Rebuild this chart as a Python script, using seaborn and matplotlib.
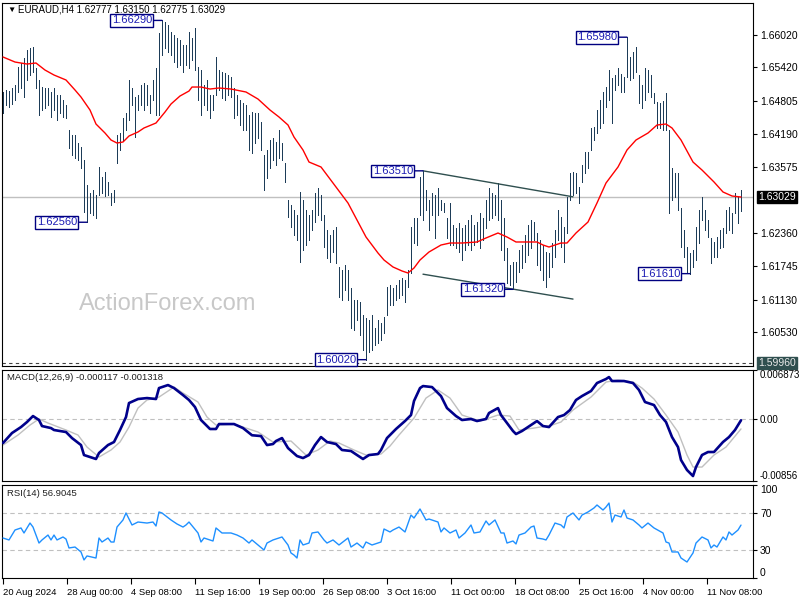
import numpy as np
import pandas as pd
import matplotlib
matplotlib.use("Agg")
import matplotlib.pyplot as plt
import matplotlib.transforms as mtransforms
import seaborn as sns

# ---------------- data ----------------
symbol_info = "EURAUD,H4 1.62777 1.63150 1.62775 1.63029"
last_close = 1.63029
support_level = 1.59960

high = [
    1.6497, 1.6500, 1.6498, 1.6504, 1.6510, 1.6543, 1.6550, 1.6559, 1.6574, 1.6578,
    1.6580, 1.6541, 1.6519, 1.6506, 1.6504, 1.6504, 1.6497, 1.6504, 1.6491, 1.6491,
    1.6482, 1.6473, 1.6426, 1.6417, 1.6417, 1.6402, 1.6395, 1.6371, 1.6325, 1.6310,
    1.6316, 1.6306, 1.6358, 1.6340, 1.6349, 1.6330, 1.6310, 1.6316, 1.6417, 1.6421,
    1.6449, 1.6458, 1.6519, 1.6504, 1.6487, 1.6491, 1.6510, 1.6513, 1.6510, 1.6491,
    1.6519, 1.6541, 1.6606, 1.6629, 1.6626, 1.6620, 1.6608, 1.6602, 1.6596, 1.6593,
    1.6584, 1.6584, 1.6608, 1.6596, 1.6615, 1.6543, 1.6537, 1.6510, 1.6519, 1.6491,
    1.6491, 1.6561, 1.6537, 1.6534, 1.6532, 1.6528, 1.6524, 1.6504, 1.6491, 1.6482,
    1.6476, 1.6473, 1.6454, 1.6460, 1.6458, 1.6458, 1.6441, 1.6380, 1.6389, 1.6408,
    1.6412, 1.6404, 1.6426, 1.6402, 1.6365, 1.6297, 1.6288, 1.6279, 1.6269, 1.6312,
    1.6297, 1.6279, 1.6269, 1.6279, 1.6310, 1.6319, 1.6306, 1.6269, 1.6242, 1.6232,
    1.6242, 1.6247, 1.6173, 1.6168, 1.6177, 1.6168, 1.6135, 1.6112, 1.6112, 1.6109,
    1.6085, 1.6079, 1.6075, 1.6085, 1.6061, 1.6075, 1.6070, 1.6081, 1.6136, 1.6140,
    1.6135, 1.6140, 1.6149, 1.6153, 1.6149, 1.6168, 1.6247, 1.6264, 1.6264, 1.6340,
    1.6351, 1.6316, 1.6297, 1.6310, 1.6306, 1.6319, 1.6297, 1.6291, 1.6264, 1.6291,
    1.6251, 1.6245, 1.6255, 1.6245, 1.6251, 1.6260, 1.6269, 1.6251, 1.6256, 1.6273,
    1.6264, 1.6297, 1.6319, 1.6310, 1.6306, 1.6329, 1.6297, 1.6264, 1.6208, 1.6177,
    1.6182, 1.6182, 1.6205, 1.6214, 1.6232, 1.6251, 1.6260, 1.6256, 1.6236, 1.6223,
    1.6214, 1.6201, 1.6199, 1.6218, 1.6242, 1.6279, 1.6266, 1.6247, 1.6303, 1.6347,
    1.6349, 1.6347, 1.6321, 1.6362, 1.6386, 1.6386, 1.6430, 1.6432, 1.6463, 1.6482,
    1.6497, 1.6506, 1.6537, 1.6523, 1.6528, 1.6541, 1.6530, 1.6524, 1.6598, 1.6561,
    1.6571, 1.6580, 1.6528, 1.6510, 1.6541, 1.6537, 1.6528, 1.6495, 1.6478, 1.6476,
    1.6480, 1.6495, 1.6426, 1.6356, 1.6347, 1.6347, 1.6282, 1.6242, 1.6210, 1.6199,
    1.6205, 1.6247, 1.6279, 1.6303, 1.6279, 1.6260, 1.6227, 1.6219, 1.6229, 1.6242,
    1.6245, 1.6279, 1.6284, 1.6273, 1.6310, 1.6303, 1.6315]

low = [
    1.6458, 1.6473, 1.6469, 1.6474, 1.6482, 1.6497, 1.6504, 1.6487, 1.6519, 1.6528,
    1.6534, 1.6504, 1.6454, 1.6463, 1.6467, 1.6473, 1.6450, 1.6463, 1.6445, 1.6458,
    1.6450, 1.6449, 1.6393, 1.6380, 1.6375, 1.6371, 1.6356, 1.6275, 1.6256, 1.6273,
    1.6269, 1.6264, 1.6306, 1.6310, 1.6304, 1.6306, 1.6288, 1.6293, 1.6365, 1.6389,
    1.6408, 1.6426, 1.6445, 1.6473, 1.6413, 1.6463, 1.6473, 1.6463, 1.6473, 1.6458,
    1.6482, 1.6454, 1.6454, 1.6565, 1.6578, 1.6571, 1.6565, 1.6552, 1.6543, 1.6547,
    1.6534, 1.6547, 1.6541, 1.6556, 1.6537, 1.6482, 1.6454, 1.6473, 1.6463, 1.6449,
    1.6463, 1.6491, 1.6500, 1.6486, 1.6482, 1.6491, 1.6487, 1.6449, 1.6454, 1.6436,
    1.6426, 1.6426, 1.6389, 1.6384, 1.6402, 1.6412, 1.6389, 1.6316, 1.6338, 1.6356,
    1.6371, 1.6362, 1.6375, 1.6371, 1.6330, 1.6266, 1.6247, 1.6232, 1.6223, 1.6182,
    1.6205, 1.6214, 1.6223, 1.6242, 1.6256, 1.6269, 1.6260, 1.6210, 1.6190, 1.6182,
    1.6201, 1.6181, 1.6118, 1.6112, 1.6131, 1.6112, 1.6061, 1.6057, 1.6075, 1.6048,
    1.6020, 1.6002, 1.6016, 1.6020, 1.6029, 1.6033, 1.6038, 1.6051, 1.6085, 1.6103,
    1.6103, 1.6112, 1.6116, 1.6122, 1.6109, 1.6136, 1.6162, 1.6218, 1.6214, 1.6269,
    1.6260, 1.6279, 1.6242, 1.6269, 1.6227, 1.6269, 1.6279, 1.6275, 1.6227, 1.6214,
    1.6214, 1.6208, 1.6201, 1.6186, 1.6205, 1.6214, 1.6205, 1.6214, 1.6219, 1.6208,
    1.6223, 1.6245, 1.6260, 1.6264, 1.6269, 1.6260, 1.6205, 1.6186, 1.6144, 1.6140,
    1.6132, 1.6146, 1.6164, 1.6171, 1.6182, 1.6195, 1.6208, 1.6223, 1.6177, 1.6168,
    1.6149, 1.6136, 1.6155, 1.6173, 1.6192, 1.6223, 1.6210, 1.6182, 1.6236, 1.6297,
    1.6306, 1.6310, 1.6291, 1.6330, 1.6347, 1.6356, 1.6389, 1.6408, 1.6421, 1.6430,
    1.6439, 1.6469, 1.6482, 1.6439, 1.6500, 1.6510, 1.6497, 1.6497, 1.6524, 1.6519,
    1.6523, 1.6534, 1.6476, 1.6467, 1.6482, 1.6497, 1.6487, 1.6476, 1.6430, 1.6430,
    1.6426, 1.6426, 1.6273, 1.6297, 1.6303, 1.6279, 1.6210, 1.6192, 1.6162, 1.6161,
    1.6173, 1.6186, 1.6218, 1.6260, 1.6242, 1.6229, 1.6181, 1.6192, 1.6192, 1.6208,
    1.6210, 1.6236, 1.6242, 1.6236, 1.6273, 1.6255, 1.62775]

ma_idx = [0, 4, 8, 11, 14, 17, 21, 24, 26, 29, 31, 34, 36, 38, 40, 42, 45, 47, 51, 54,
          56, 59, 62, 63, 66, 69, 72, 76, 81, 85, 89, 92, 95, 97, 100, 102, 106, 108, 111, 115,
          118, 121, 125, 127, 130, 133, 135, 137, 139, 142, 146, 149, 153, 158, 161, 165, 168, 171, 176, 178,
          180, 182, 186, 188, 191, 195, 198, 201, 205, 208, 211, 215, 218, 221, 223, 226, 230, 233, 237, 240,
          243, 246]
ma_val = [1.65614, 1.65521, 1.65484, 1.65503, 1.65373, 1.65281, 1.65189, 1.65004, 1.64874, 1.64634,
          1.64375, 1.64209, 1.64080, 1.64024, 1.64043, 1.64154, 1.64228, 1.64302, 1.64394, 1.64597,
          1.64745, 1.64893, 1.64985, 1.65059, 1.65059, 1.65022, 1.65041, 1.65022, 1.64967, 1.64837,
          1.64634, 1.64505, 1.64357, 1.64135, 1.63895, 1.63673, 1.63581, 1.63433, 1.63211, 1.62915,
          1.62601, 1.62287, 1.61991, 1.61862, 1.61733, 1.61659, 1.61622, 1.61714, 1.61862, 1.62010,
          1.62139, 1.62176, 1.62176, 1.62195, 1.62269, 1.62361, 1.62287, 1.62195, 1.62195, 1.62195,
          1.62139, 1.62102, 1.62176, 1.62176, 1.62361, 1.62564, 1.62916, 1.63285, 1.63581, 1.63895,
          1.64080, 1.64209, 1.64357, 1.64375, 1.64302, 1.64080, 1.63673, 1.63525, 1.63304, 1.63119,
          1.63045, 1.63026]

trend_upper_idx = [140, 190]
trend_upper_val = [1.6351, 1.6303]
trend_lower_idx = [140, 190]
trend_lower_val = [1.6160, 1.6114]

mark_idx = [53, 28, 121, 140, 170, 208, 229]
mark_val = [1.66290, 1.62560, 1.60020, 1.63510, 1.61320, 1.65980, 1.61610]

macd_idx = [0, 3, 6, 8, 10, 12, 13, 16, 17, 21, 23, 26, 27, 31, 32, 35, 37, 39, 41, 42,
            45, 48, 51, 52, 55, 57, 60, 62, 64, 66, 69, 71, 72, 77, 80, 83, 86, 88, 90, 91,
            93, 95, 98, 100, 102, 104, 106, 108, 111, 113, 116, 118, 120, 122, 125, 126, 128, 131, 134, 136,
            137, 139, 140, 143, 146, 148, 151, 153, 156, 158, 161, 162, 165, 166, 168, 170, 171, 173, 176, 178,
            180, 182, 185, 187, 189, 191, 193, 196, 198, 201, 202, 203, 207, 210, 212, 214, 217, 219, 221, 223,
            225, 226, 228, 230, 231, 233, 235, 237, 240, 242, 244, 246]
macd_val = [-0.00328, -0.00189, -0.00106, -0.00036, 0.00047, -0.00008, -0.00092, -0.00120, -0.00147, -0.00175,
            -0.00259, -0.00356, -0.00495, -0.00550, -0.00467, -0.00356, -0.00314, -0.00147, 0.00033, 0.00228,
            0.00284, 0.00297, 0.00284, 0.00436, 0.00478, 0.00436, 0.00339, 0.00270, 0.00172, -0.00008,
            -0.00133, -0.00133, -0.00064, -0.00064, -0.00120, -0.00220, -0.00231, -0.00356, -0.00342, -0.00300,
            -0.00259, -0.00398, -0.00509, -0.00537, -0.00495, -0.00356, -0.00245, -0.00314, -0.00342, -0.00425,
            -0.00439, -0.00495, -0.00550, -0.00495, -0.00481, -0.00425, -0.00259, -0.00133, -0.00022, 0.00061,
            0.00256, 0.00436, 0.00464, 0.00450, 0.00325, 0.00158, 0.00047, -0.00008, 0.00006, -0.00022,
            0.00006, 0.00089, 0.00158, 0.00061, -0.00050, -0.00161, -0.00203, -0.00161, -0.00078, -0.00022,
            -0.00092, -0.00106, 0.00033, 0.00061, 0.00131, 0.00270, 0.00325, 0.00395, 0.00506, 0.00562,
            0.00589, 0.00534, 0.00534, 0.00506, 0.00409, 0.00242, 0.00200, 0.00061, -0.00036, -0.00245,
            -0.00384, -0.00564, -0.00703, -0.00787, -0.00662, -0.00495, -0.00453, -0.00453, -0.00314, -0.00245,
            -0.00147, -0.00012]

signal_idx = [0, 5, 9, 12, 15, 21, 25, 28, 32, 36, 39, 42, 45, 48, 52, 57, 60, 65, 68, 71,
              77, 81, 85, 90, 96, 101, 105, 109, 112, 117, 121, 126, 129, 132, 137, 141, 145, 149, 153, 159,
              165, 169, 172, 177, 183, 186, 190, 196, 201, 205, 210, 213, 217, 221, 225, 228, 230, 233, 237, 241,
              246]
signal_val = [-0.00356, -0.00217, -0.00078, 0.00006, -0.00050, -0.00147, -0.00217, -0.00384, -0.00523, -0.00425,
              -0.00314, -0.00106, 0.00158, 0.00270, 0.00311, 0.00450, 0.00367, 0.00242, 0.00033, -0.00078,
              -0.00064, -0.00120, -0.00175, -0.00314, -0.00300, -0.00495, -0.00425, -0.00300, -0.00328, -0.00425,
              -0.00495, -0.00481, -0.00370, -0.00217, 0.00019, 0.00297, 0.00409, 0.00297, 0.00061, -0.00022,
              0.00061, 0.00047, -0.00147, -0.00120, -0.00078, -0.00036, 0.00131, 0.00311, 0.00520, 0.00547,
              0.00520, 0.00436, 0.00284, 0.00061, -0.00175, -0.00495, -0.00662, -0.00662, -0.00495, -0.00384,
              -0.00132]

rsi_idx = [0, 2, 4, 6, 7, 9, 10, 12, 13, 15,
           16, 17, 18, 20, 21, 22, 24, 26, 27, 28,
           31, 32, 33, 35, 36, 37, 38, 40, 41, 43,
           45, 48, 50, 51, 52, 53, 56, 58, 60, 61,
           62, 65, 66, 67, 70, 71, 73, 76, 78, 80,
           82, 83, 85, 87, 88, 90, 93, 95, 96, 97,
           98, 99, 100, 102, 103, 105, 107, 108, 110, 112,
           115, 116, 118, 120, 121, 123, 126, 127, 129, 130,
           132, 134, 136, 137, 139, 141, 142, 145, 146, 147,
           149, 151, 152, 154, 156, 157, 159, 161, 162, 164,
           166, 167, 168, 170, 171, 172, 174, 176, 177, 178,
           180, 181, 182, 184, 186, 187, 188, 190, 192, 193,
           195, 197, 198, 200, 201, 202, 203, 204, 206, 207,
           208, 210, 212, 213, 215, 217, 220, 221, 222, 223,
           225, 226, 228, 230, 231, 233, 235, 236, 237, 238,
           240, 241, 242, 243, 245, 246]
rsi_val = [43.0, 40.9, 51.6, 53.8, 48.4, 59.1, 54.8, 37.6, 40.9, 46.2,
           40.9, 46.2, 40.9, 44.1, 41.9, 32.3, 33.3, 28.0, 19.4, 23.7,
           21.5, 43.0, 38.7, 43.0, 38.7, 38.7, 54.8, 62.4, 69.9, 57.0,
           60.2, 59.1, 60.2, 55.9, 71.0, 69.9, 62.4, 58.1, 54.8, 57.0,
           60.2, 48.4, 38.7, 43.0, 39.8, 53.8, 48.4, 48.4, 46.2, 43.0,
           37.6, 40.9, 35.5, 30.1, 37.6, 40.9, 44.1, 35.5, 26.9, 24.7,
           21.5, 40.9, 35.5, 37.6, 48.4, 49.5, 40.9, 37.6, 40.9, 35.5,
           43.0, 33.3, 37.6, 32.3, 38.7, 35.5, 38.7, 52.7, 49.5, 51.6,
           54.8, 49.5, 67.7, 64.5, 74.2, 62.4, 63.4, 60.2, 49.5, 53.8,
           48.4, 51.6, 43.0, 48.4, 57.0, 48.4, 49.5, 61.3, 57.0, 62.4,
           48.4, 48.4, 37.6, 39.8, 36.6, 46.2, 48.4, 54.8, 55.9, 43.0,
           41.9, 40.9, 46.2, 59.1, 57.0, 53.8, 65.6, 69.9, 62.4, 67.7,
           71.0, 75.3, 78.5, 73.1, 76.3, 80.6, 60.2, 67.7, 65.6, 73.1,
           64.5, 62.4, 57.0, 53.8, 59.1, 53.8, 48.4, 38.7, 37.6, 28.0,
           28.0, 21.5, 17.2, 26.9, 37.6, 44.1, 40.9, 32.3, 35.5, 33.3,
           44.1, 40.9, 49.5, 46.2, 51.6, 56.9]

price_ticks = [1.66020, 1.65420, 1.64805, 1.64190, 1.63575, 1.62360, 1.61745, 1.61130, 1.60530]
macd_ticks = [-0.00856, 0.0, 0.006873]
macd_tick_labels = ["-0.00856", "0.00", "0.006873"]
rsi_levels = [30, 70]
rsi_ticks = [0, 30, 70, 100]
macd_title = "MACD(12,26,9) -0.000117 -0.001318"
rsi_title = "RSI(14) 56.9045"
date_labels = ["20 Aug 2024", "28 Aug 00:00", "4 Sep 08:00", "11 Sep 16:00", "19 Sep 00:00",
               "26 Sep 08:00", "3 Oct 16:00", "11 Oct 00:00", "18 Oct 08:00", "25 Oct 16:00",
               "4 Nov 00:00", "11 Nov 08:00"]
bars_per_date_label = 64 / 3

# ---------------- style ----------------
sns.set_theme(style="white")
plt.rcParams["font.family"] = ["Liberation Sans", "DejaVu Sans"]
plt.rcParams["axes.linewidth"] = 0.8

BAR_C = "#1d3c58"
FS = 7.5      # price axis labels
FS_SMALL = 6.8  # titles / date labels

bars = pd.DataFrame({"bar": np.arange(len(high)), "high": high, "low": low})
ma = pd.DataFrame({"bar": ma_idx, "ma": ma_val})
macd = pd.DataFrame({"bar": macd_idx, "macd": macd_val})
sig = pd.DataFrame({"bar": signal_idx, "signal": signal_val})
rsi = pd.DataFrame({"bar": rsi_idx, "rsi": rsi_val})

W, H = 800, 600
fig = plt.figure(figsize=(8, 6), dpi=100)


def add_ax(x0, y0, x1, y1):
    return fig.add_axes([x0 / W, 1 - y1 / H, (x1 - x0) / W, (y1 - y0) / H])


ax = add_ax(2, 3, 753, 366)
axm = add_ax(2, 370, 753, 481)
axr = add_ax(2, 485, 753, 578)

for a in (ax, axm, axr):
    a.set_xlim(-1 / 3, 250)
    a.set_facecolor("white")
    for s in a.spines.values():
        s.set_color("black")
        s.set_linewidth(0.8)
    a.yaxis.tick_right()
    a.tick_params(axis="y", right=True, left=False, length=3, width=0.8, pad=2,
                  labelsize=FS, colors="black", direction="out")
    a.tick_params(axis="x", bottom=False, labelbottom=False)

# ---- main price panel ----
ax.set_ylim(1.59903, 1.66612)
ax.axhline(last_close, color="#c0c0c0", lw=1, zorder=1)
ax.axhline(support_level, color="#404040", lw=0.8, ls=(0, (3, 3)), zorder=1)
ax.text(0.1027, 0.1708, "ActionForex.com", transform=ax.transAxes, fontsize=17,
        color="#c8c8c8", ha="left", va="center", zorder=0)
ax.vlines(bars["bar"], bars["low"], bars["high"], color=BAR_C, lw=0.72,
          antialiased=False, zorder=2)
sns.lineplot(data=ma, x="bar", y="ma", ax=ax, color="#ff0000", linewidth=1, zorder=3)
sns.lineplot(x=trend_upper_idx, y=trend_upper_val, ax=ax, color="#2f4f4f", linewidth=1, zorder=3)
sns.lineplot(x=trend_lower_idx, y=trend_lower_val, ax=ax, color="#2f4f4f", linewidth=1, zorder=3)

for i, v in zip(mark_idx, mark_val):
    ax.annotate(f"{v:.5f}", xy=(i, v), xytext=(-10, 0), textcoords="offset pixels",
                ha="right", va="center", fontsize=8, color="#1c1cb4", zorder=5,
                bbox=dict(boxstyle="square,pad=0.12", fc="white", ec="#000080", lw=1),
                arrowprops=dict(arrowstyle="-", color="#000080", lw=1, shrinkA=0, shrinkB=0))

ax.set_yticks(price_ticks)
ax.set_yticklabels([f"{p:.5f}" for p in price_ticks])

trans = mtransforms.blended_transform_factory(ax.transAxes, ax.transData)
ax.annotate(f"{last_close:.5f}", xy=(1, last_close), xycoords=trans, xytext=(5, 0),
            textcoords="offset pixels", ha="left", va="center", fontsize=FS, color="white",
            bbox=dict(boxstyle="square,pad=0.12", fc="black", ec="black"),
            annotation_clip=False)
ax.annotate(f"{support_level:.5f}", xy=(1, support_level), xycoords=trans, xytext=(5, 0),
            textcoords="offset pixels", ha="left", va="center", fontsize=FS, color="#e8e8e8",
            bbox=dict(boxstyle="square,pad=0.12", fc="#2f4f4f", ec="#2f4f4f"),
            annotation_clip=False)

# ---- MACD panel ----
axm.set_ylim(-0.00856, 0.006873)
axm.axhline(0, color="#c0c0c0", lw=0.8, ls=(0, (4, 3)), zorder=1)
sns.lineplot(data=sig, x="bar", y="signal", ax=axm, color="#c0c0c0", linewidth=1, zorder=2)
sns.lineplot(data=macd, x="bar", y="macd", ax=axm, color="#00008b", linewidth=1.9, zorder=3)
axm.set_yticks(macd_ticks)
axm.set_yticklabels(macd_tick_labels)
axm.tick_params(axis="y", labelsize=7)
mlabels = axm.get_yticklabels()
mlabels[0].set_va("bottom")
mlabels[-1].set_va("top")

# ---- RSI panel ----
axr.set_ylim(0, 100)
for lvl in rsi_levels:
    axr.axhline(lvl, color="#c0c0c0", lw=0.8, ls=(0, (4, 3)), zorder=1)
sns.lineplot(data=rsi, x="bar", y="rsi", ax=axr, color="#1e90ff", linewidth=1, zorder=3)
axr.set_yticks(rsi_ticks)
axr.set_yticklabels([str(t) for t in rsi_ticks])
rlabels = axr.get_yticklabels()
rlabels[0].set_va("bottom")
rlabels[-1].set_va("top")

tick_pos = np.arange(len(date_labels)) * bars_per_date_label
axr.set_xticks(tick_pos)
axr.set_xticklabels(date_labels, ha="left")
axr.tick_params(axis="x", bottom=True, labelbottom=True, length=4, width=0.8, pad=3,
                labelsize=FS_SMALL, colors="black", direction="out")

for a in (ax, axm, axr):
    a.set_xlabel("")
    a.set_ylabel("")
    leg = a.get_legend()
    if leg is not None:
        leg.remove()

# ---- titles ----
fig.text(7 / W, 1 - 10 / H, "\u25bc", fontsize=6, va="center", ha="left", color="black")
fig.text(18 / W, 1 - 10 / H, symbol_info, fontsize=FS_SMALL + 0.2, va="center", ha="left", color="black")
fig.text(7 / W, 1 - 378 / H, macd_title, fontsize=FS_SMALL, va="center", ha="left", color="#202020")
fig.text(7 / W, 1 - 493 / H, rsi_title, fontsize=FS_SMALL, va="center", ha="left", color="#202020")

fig.savefig("out.png", dpi=100, facecolor="white")
